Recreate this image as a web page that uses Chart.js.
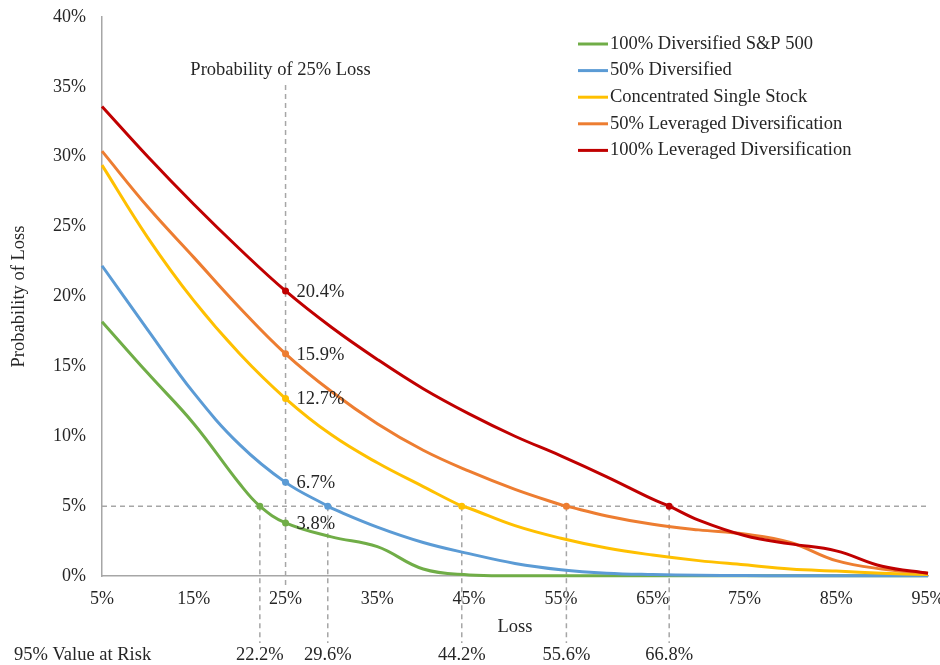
<!DOCTYPE html>
<html>
<head>
<meta charset="utf-8">
<script src="https://cdn.jsdelivr.net/npm/chart.js@4.4.1/dist/chart.umd.min.js"></script>
<style>
  html, body { margin: 0; padding: 0; background: #fff; }
</style>
</head>
<body>
<canvas id="loss-chart" width="940" height="665"></canvas>
<script>
// loss levels (%) on the x axis
var lossLevels = [5, 10, 15, 20, 25, 30, 35, 40, 45, 50, 55, 60, 65, 70, 75, 80, 85, 90, 95];

// probability of loss (%) for each series
var sp500Full   = [18.2, 14.5, 10.9, 6.6, 3.8, 2.8, 2.1, 0.5, 0.08, 0.02, 0.01, 0.01, 0.01, 0.01, 0.01, 0.01, 0.01, 0.01, 0.01];
var halfDiv     = [22.2, 17.6, 13.1, 9.4, 6.7, 4.85, 3.5, 2.4, 1.6, 0.9, 0.45, 0.2, 0.1, 0.05, 0.03, 0.02, 0.02, 0.02, 0.02];
var singleStock = [29.4, 24.2, 19.7, 15.9, 12.7, 10.1, 8.1, 6.4, 4.85, 3.6, 2.7, 2.0, 1.5, 1.1, 0.8, 0.5, 0.35, 0.2, 0.1];
var halfLev     = [30.4, 26.4, 22.8, 19.2, 15.9, 13.2, 10.9, 9.0, 7.5, 6.2, 5.1, 4.3, 3.7, 3.3, 3.0, 2.4, 1.1, 0.5, 0.2];
var fullLev     = [33.6, 30.0, 26.6, 23.4, 20.4, 17.8, 15.5, 13.4, 11.6, 10.0, 8.6, 7.1, 5.5, 4.0, 2.9, 2.3, 1.8, 0.7, 0.2];

var seriesNames = ['100% Diversified S&P 500', '50% Diversified', 'Concentrated Single Stock',
                   '50% Leveraged Diversification', '100% Leveraged Diversification'];
var seriesColors = ['#70AD47', '#5B9BD5', '#FFC000', '#ED7D31', '#C00000'];

// probability of a 25% loss, and the 95% value at risk (loss where probability = 5%)
var markLoss = 25;
var prob25 = [3.8, 6.7, 12.7, 15.9, 20.4];
var varLevel = 5;
var var95 = [22.2, 29.6, 44.2, 55.6, 66.8];

var xTicks = [5, 15, 25, 35, 45, 55, 65, 75, 85, 95];
var yTicks = [0, 5, 10, 15, 20, 25, 30, 35, 40];

var FONT = '"Liberation Serif", "DejaVu Serif", serif';
var TEXT = '#262626';
var DASH = '#A6A6A6';

function buildSeries(values, i) {
    var pts = lossLevels.map(function(x, k) { return { x: x, y: values[k] }; });
    pts.forEach(function(p) { if (p.x === markLoss) p.y = prob25[i]; });
    pts.push({ x: var95[i], y: varLevel, mark: true });
    pts.forEach(function(p) { if (p.x === markLoss) p.mark = true; });
    pts.sort(function(a, b) { return a.x - b.x; });
    return pts;
}

var allValues = [sp500Full, halfDiv, singleStock, halfLev, fullLev];

var datasets = allValues.map(function(vals, i) {
    return {
        label: seriesNames[i],
        data: buildSeries(vals, i),
        borderColor: seriesColors[i],
        backgroundColor: seriesColors[i],
        borderWidth: 3,
        tension: 0.4,
        clip: false,
        order: 5 - i,
        pointRadius: function(ctx) { return ctx.raw && ctx.raw.mark ? 3.5 : 0; },
        pointHoverRadius: 0,
        pointBorderWidth: 0
    };
});

// dashed guides, value labels and the legend
var annotations = {
    id: 'annotations',
    beforeDatasetsDraw: function(chart) {
        var ctx = chart.ctx, xs = chart.scales.x, ys = chart.scales.y, area = chart.chartArea;
        ctx.save();
        ctx.strokeStyle = DASH;
        ctx.lineWidth = 1.5;
        ctx.setLineDash([5, 4]);
        // horizontal 5% line
        var y5 = ys.getPixelForValue(varLevel);
        ctx.beginPath();
        ctx.moveTo(area.left, y5);
        ctx.lineTo(area.right, y5);
        ctx.stroke();
        // vertical 25% line
        var x25 = xs.getPixelForValue(markLoss);
        ctx.beginPath();
        ctx.moveTo(x25, area.top + 68);
        ctx.lineTo(x25, area.bottom + 11);
        ctx.stroke();
        // value at risk lines
        var95.forEach(function(v) {
            var px = xs.getPixelForValue(v);
            ctx.beginPath();
            ctx.moveTo(px, y5);
            ctx.lineTo(px, area.bottom + 67);
            ctx.stroke();
        });
        ctx.restore();
    },
    afterDatasetsDraw: function(chart) {
        var ctx = chart.ctx, xs = chart.scales.x, ys = chart.scales.y, area = chart.chartArea;
        ctx.save();
        ctx.fillStyle = TEXT;
        ctx.font = '18.5px ' + FONT;
        ctx.textBaseline = 'middle';

        var x25 = xs.getPixelForValue(markLoss);
        ctx.textAlign = 'center';
        ctx.fillText('Probability of 25% Loss', x25 - 5, area.top + 53);

        ctx.textAlign = 'left';
        prob25.forEach(function(v) {
            ctx.fillText(v.toFixed(1) + '%', x25 + 11, ys.getPixelForValue(v) + 1);
        });

        // value at risk row under the axis
        var rowY = area.bottom + 79;
        ctx.fillText('95% Value at Risk', 14, rowY);
        ctx.textAlign = 'center';
        var95.forEach(function(v) {
            ctx.fillText(v.toFixed(1) + '%', xs.getPixelForValue(v), rowY);
        });

        // legend
        ctx.textAlign = 'left';
        chart.data.datasets.forEach(function(ds, i) {
            var ly = area.top + 27 + i * 26.6;
            ctx.strokeStyle = ds.borderColor;
            ctx.lineWidth = 3;
            ctx.beginPath();
            ctx.moveTo(578, ly);
            ctx.lineTo(608, ly);
            ctx.stroke();
            ctx.fillText(ds.label, 610, ly);
        });
        ctx.restore();
    }
};

var chart = new Chart(document.getElementById('loss-chart').getContext('2d'), {
    type: 'line',
    data: { datasets: datasets },
    options: {
        responsive: false,
        animation: false,
        layout: { padding: { top: 17, right: 12, left: 0, bottom: 0 } },
        plugins: { legend: { display: false }, tooltip: { enabled: false } },
        scales: {
            x: {
                type: 'linear',
                min: 5,
                max: 95,
                afterBuildTicks: function(scale) {
                    scale.ticks = xTicks.map(function(v) { return { value: v }; });
                },
                afterFit: function(scale) {
                    scale.height = 89;
                    scale.paddingLeft = 0;
                    scale.paddingRight = 0;
                },
                ticks: {
                    padding: 12,
                    color: TEXT,
                    font: { family: FONT, size: 18 },
                    maxRotation: 0,
                    callback: function(v) { return v + '%'; }
                },
                grid: { drawOnChartArea: false, drawTicks: false },
                border: { display: true, color: '#A6A6A6', width: 1.5 },
                title: {
                    display: true,
                    text: 'Loss',
                    color: TEXT,
                    font: { family: FONT, size: 18.5 },
                    padding: { top: 27, bottom: 27 }
                }
            },
            y: {
                min: 0,
                max: 40,
                afterBuildTicks: function(scale) {
                    scale.ticks = yTicks.map(function(v) { return { value: v }; });
                },
                afterFit: function(scale) {
                    scale.width = 102;
                    scale.paddingTop = 0;
                    scale.paddingBottom = 0;
                },
                ticks: {
                    padding: 16,
                    color: TEXT,
                    font: { family: FONT, size: 18 },
                    callback: function(v) { return v + '%'; }
                },
                grid: { drawOnChartArea: false, drawTicks: false },
                border: { display: true, color: '#A6A6A6', width: 1.5 },
                title: {
                    display: true,
                    text: 'Probability of Loss',
                    color: TEXT,
                    font: { family: FONT, size: 18.5 },
                    padding: { top: 8, bottom: 8 }
                }
            }
        }
    },
    plugins: [annotations]
});
</script>
</body>
</html>
